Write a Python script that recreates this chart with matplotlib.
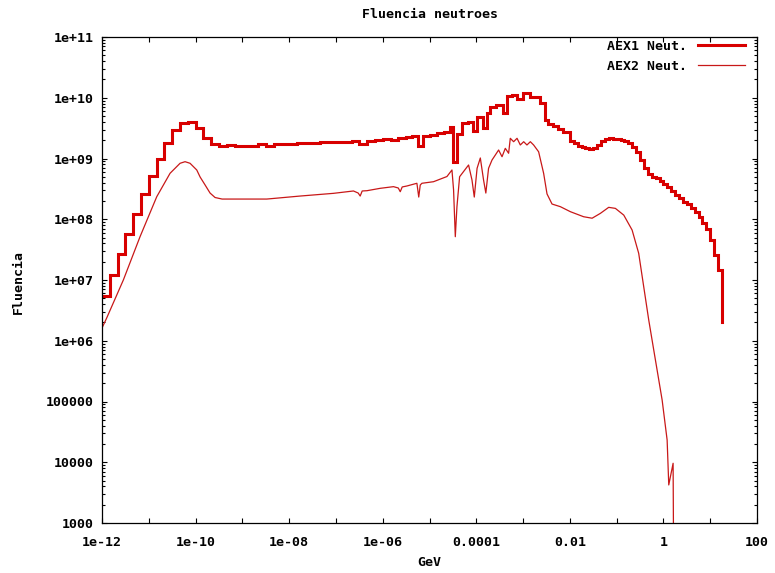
import numpy as np
import matplotlib
matplotlib.use("Agg")
import matplotlib.pyplot as plt
from matplotlib.ticker import FixedLocator, FixedFormatter, NullFormatter

# ---------------------------------------------------------------------------
# AEX1 neutron fluence (step histogram)
# ---------------------------------------------------------------------------
# thermal / epithermal part: six logarithmic bins per decade, 1e-12 .. 10^-5.5 GeV
aex1_low_edges = np.logspace(-12, -5.5, 40)[:-1]
aex1_low_fluence = [
    5.5e6, 1.21e7, 2.65e7, 5.65e7, 1.21e8, 2.58e8, 5.15e8, 9.7e8, 1.78e9,
    2.94e9, 3.88e9, 4.03e9, 3.14e9, 2.2e9, 1.71e9,
    1.61e9, 1.67e9, 1.62e9, 1.62e9, 1.62e9, 1.71e9, 1.62e9, 1.71e9, 1.71e9,
    1.71e9, 1.78e9, 1.78e9, 1.78e9, 1.85e9, 1.85e9, 1.85e9, 1.89e9, 1.94e9,
    1.73e9, 1.96e9, 2.05e9, 2.07e9, 2.02e9, 2.17e9,
]

# resonance region (group structure, left bin edges in GeV)
aex1_res_edges = [
    3.16e-6, 4.28e-6, 5.74e-6, 7.34e-6, 1.04e-5, 1.47e-5, 2.07e-5, 2.78e-5,
    3.22e-5, 3.92e-5, 5.02e-5, 6.75e-5, 8.63e-5, 1.05e-4, 1.41e-4, 1.72e-4,
    1.99e-4, 2.68e-4, 3.78e-4, 4.61e-4, 5.89e-4, 7.54e-4, 1.01e-3, 1.43e-3,
    2.34e-3, 2.99e-3, 3.47e-3, 4.44e-3, 5.68e-3, 7.26e-3,
]
aex1_res_fluence = [
    2.26e9, 2.35e9, 1.61e9, 2.39e9, 2.48e9, 2.58e9, 2.68e9, 3.34e9,
    8.86e8, 2.53e9, 3.80e9, 4.03e9, 2.84e9, 4.88e9, 3.18e9, 5.61e9,
    7.13e9, 7.60e9, 5.61e9, 1.07e10, 1.13e10, 9.53e9, 1.18e10, 1.04e10,
    8.11e9, 4.30e9, 3.70e9, 3.43e9, 3.06e9, 2.73e9,
]

# fast / high-energy part: twelve logarithmic bins per decade, 0.01 .. 10^1.25 GeV
aex1_high_edges = np.logspace(-2, 1.25, 40)[:-1]
aex1_high_fluence = [
    1.94e9, 1.77e9, 1.61e9, 1.52e9, 1.47e9, 1.46e9, 1.49e9, 1.67e9, 1.94e9,
    2.11e9, 2.15e9, 2.13e9, 2.09e9, 2.02e9, 1.94e9, 1.77e9, 1.55e9, 1.26e9,
    9.45e8, 6.98e8, 5.56e8, 5.05e8, 4.69e8, 4.26e8, 3.80e8, 3.40e8, 2.92e8,
    2.51e8, 2.24e8, 1.92e8, 1.75e8, 1.53e8, 1.34e8, 1.09e8, 8.67e7, 6.92e7,
    4.55e7, 2.58e7, 1.46e7,
]
aex1_end_gev = 17.8
aex1_end_fluence = 2.0e6

# ---------------------------------------------------------------------------
# AEX2 neutron fluence (line)
# ---------------------------------------------------------------------------
aex2_gev = [
    1.0e-12, 1.26e-12, 2.86e-12, 6.50e-12, 1.48e-11, 2.85e-11, 4.66e-11,
    5.96e-11, 7.62e-11, 1.06e-10, 1.25e-10, 1.60e-10, 2.04e-10, 2.61e-10,
    3.69e-10, 3.33e-9, 1.72e-8, 8.87e-8, 2.37e-7, 2.99e-7, 3.30e-7, 3.64e-7,
    4.59e-7, 8.85e-7, 1.70e-6, 2.15e-6, 2.37e-6, 2.61e-6, 3.30e-6, 5.38e-6,
    5.89e-6, 6.34e-6, 6.89e-6, 1.22e-5, 2.36e-5, 3.02e-5, 3.27e-5, 3.56e-5,
    3.86e-5, 4.40e-5, 6.84e-5, 8.09e-5, 9.06e-5, 1.04e-4, 1.22e-4, 1.43e-4,
    1.60e-4, 1.83e-4, 2.17e-4, 2.55e-4, 3.00e-4, 3.55e-4, 4.17e-4, 4.91e-4,
    5.33e-4, 6.28e-4, 7.43e-4, 8.73e-4, 1.03e-3, 1.21e-3, 1.43e-3, 1.68e-3,
    2.15e-3, 2.75e-3, 3.25e-3, 4.16e-3, 6.27e-3, 1.03e-2, 1.97e-2, 2.99e-2,
    4.49e-2, 6.76e-2, 9.40e-2, 0.142, 0.214, 0.296, 0.379, 0.485, 0.621,
    0.938, 1.20, 1.30, 1.61, 1.66,
]
aex2_fluence = [
    1.62e6, 2.37e6, 1.0e7, 5.16e7, 2.35e8, 5.71e8, 8.34e8,
    8.86e8, 8.34e8, 6.47e8, 4.96e8, 3.66e8, 2.70e8, 2.28e8,
    2.15e8, 2.15e8, 2.41e8, 2.67e8, 2.92e8, 2.70e8, 2.41e8, 2.92e8,
    2.95e8, 3.23e8, 3.44e8, 3.27e8, 2.84e8, 3.40e8, 3.53e8, 3.91e8,
    2.32e8, 3.66e8, 3.91e8, 4.15e8, 5.05e8, 6.47e8, 3.03e8, 5.16e7,
    1.61e8, 5.01e8, 7.82e8, 4.43e8, 2.32e8, 6.90e8, 1.02e9, 4.43e8,
    2.70e8, 6.90e8, 9.45e8, 1.14e9, 1.38e9, 1.07e9, 1.47e9, 1.22e9,
    2.15e9, 1.89e9, 2.15e9, 1.67e9, 1.89e9, 1.67e9, 1.89e9, 1.67e9,
    1.29e9, 5.71e8, 2.61e8, 1.78e8, 1.61e8, 1.33e8, 1.10e8, 1.04e8,
    1.25e8, 1.57e8, 1.51e8, 1.17e8, 6.65e7, 2.75e7, 7.76e6, 2.20e6, 7.04e5,
    1.06e5, 2.32e4, 4.23e3, 9.62e3, 1.0e2,
]

series_labels = ["AEX1 Neut.", "AEX2 Neut."]
xtick_values = [1e-12, 1e-10, 1e-8, 1e-6, 1e-4, 1e-2, 1, 100]
xtick_labels = ["1e-12", "1e-10", "1e-08", "1e-06", "0.0001", "0.01", "1", "100"]
ytick_values = [1e3, 1e4, 1e5, 1e6, 1e7, 1e8, 1e9, 1e10, 1e11]
ytick_labels = ["1000", "10000", "100000", "1e+06", "1e+07", "1e+08",
                "1e+09", "1e+10", "1e+11"]

# ---------------------------------------------------------------------------
W, H = 775, 573
fig = plt.figure(figsize=(W / 100, H / 100), dpi=100)
left, right, top, bottom = 102, 757, 37, 523
ax = fig.add_axes([left / W, 1 - bottom / H, (right - left) / W, (bottom - top) / H])

font = dict(family="DejaVu Sans Mono", weight="bold", size=9.5)

aex1_e = np.concatenate([aex1_low_edges, aex1_res_edges, aex1_high_edges, [aex1_end_gev]])
aex1_f = np.concatenate([aex1_low_fluence, aex1_res_fluence, aex1_high_fluence, [aex1_end_fluence]])

ax.plot(aex1_e, aex1_f, drawstyle="steps-post", color="#d80000", lw=2.2,
        solid_joinstyle="miter", label=series_labels[0])
ax.plot(aex2_gev, aex2_fluence, color="#c81818", lw=0.9, label=series_labels[1])

ax.set_xscale("log")
ax.set_yscale("log")
ax.set_xlim(1e-12, 100)
ax.set_ylim(1e3, 1e11)

ax.xaxis.set_major_locator(FixedLocator(xtick_values))
ax.xaxis.set_major_formatter(FixedFormatter(xtick_labels))
ax.xaxis.set_minor_locator(FixedLocator([10.0 ** k for k in range(-11, 2, 2)]))
ax.xaxis.set_minor_formatter(NullFormatter())

ax.yaxis.set_major_locator(FixedLocator(ytick_values))
ax.yaxis.set_major_formatter(FixedFormatter(ytick_labels))
ax.yaxis.set_minor_locator(FixedLocator(
    [m * 10.0 ** k for k in range(3, 11) for m in range(2, 10)]))
ax.yaxis.set_minor_formatter(NullFormatter())

ax.tick_params(which="both", direction="in", top=True, right=True, color="black")
ax.tick_params(axis="x", which="major", length=3.5, width=0.8, pad=9)
ax.tick_params(axis="x", which="minor", length=3.5, width=0.8)
ax.tick_params(axis="y", which="major", length=3.5, width=0.8, pad=6)
ax.tick_params(axis="y", which="minor", length=2.0, width=0.8)
for lab in ax.get_xticklabels() + ax.get_yticklabels():
    lab.set_fontfamily(font["family"])
    lab.set_fontweight(font["weight"])
    lab.set_fontsize(font["size"])

for sp in ax.spines.values():
    sp.set_linewidth(0.9)
    sp.set_color("black")

fig.text((left + right) / 2 / W, 1 - 15 / H, "Fluencia neutroes",
         ha="center", va="center", **font)
fig.text((left + right) / 2 / W, 1 - 563 / H, "GeV",
         ha="center", va="center", **font)
fig.text(18 / W, 1 - 282 / H, "Fluencia", rotation=90,
         ha="center", va="center", **font)

ax.legend(loc="upper right", bbox_to_anchor=(1 - 12 / (right - left), 1 - 2.5 / (bottom - top)),
          markerfirst=False, frameon=False, handlelength=3.6, handletextpad=0.8,
          labelspacing=0.55, borderpad=0, borderaxespad=0,
          prop=dict(family=font["family"], weight="bold", size=font["size"]))

fig.savefig("out.png", dpi=100)
